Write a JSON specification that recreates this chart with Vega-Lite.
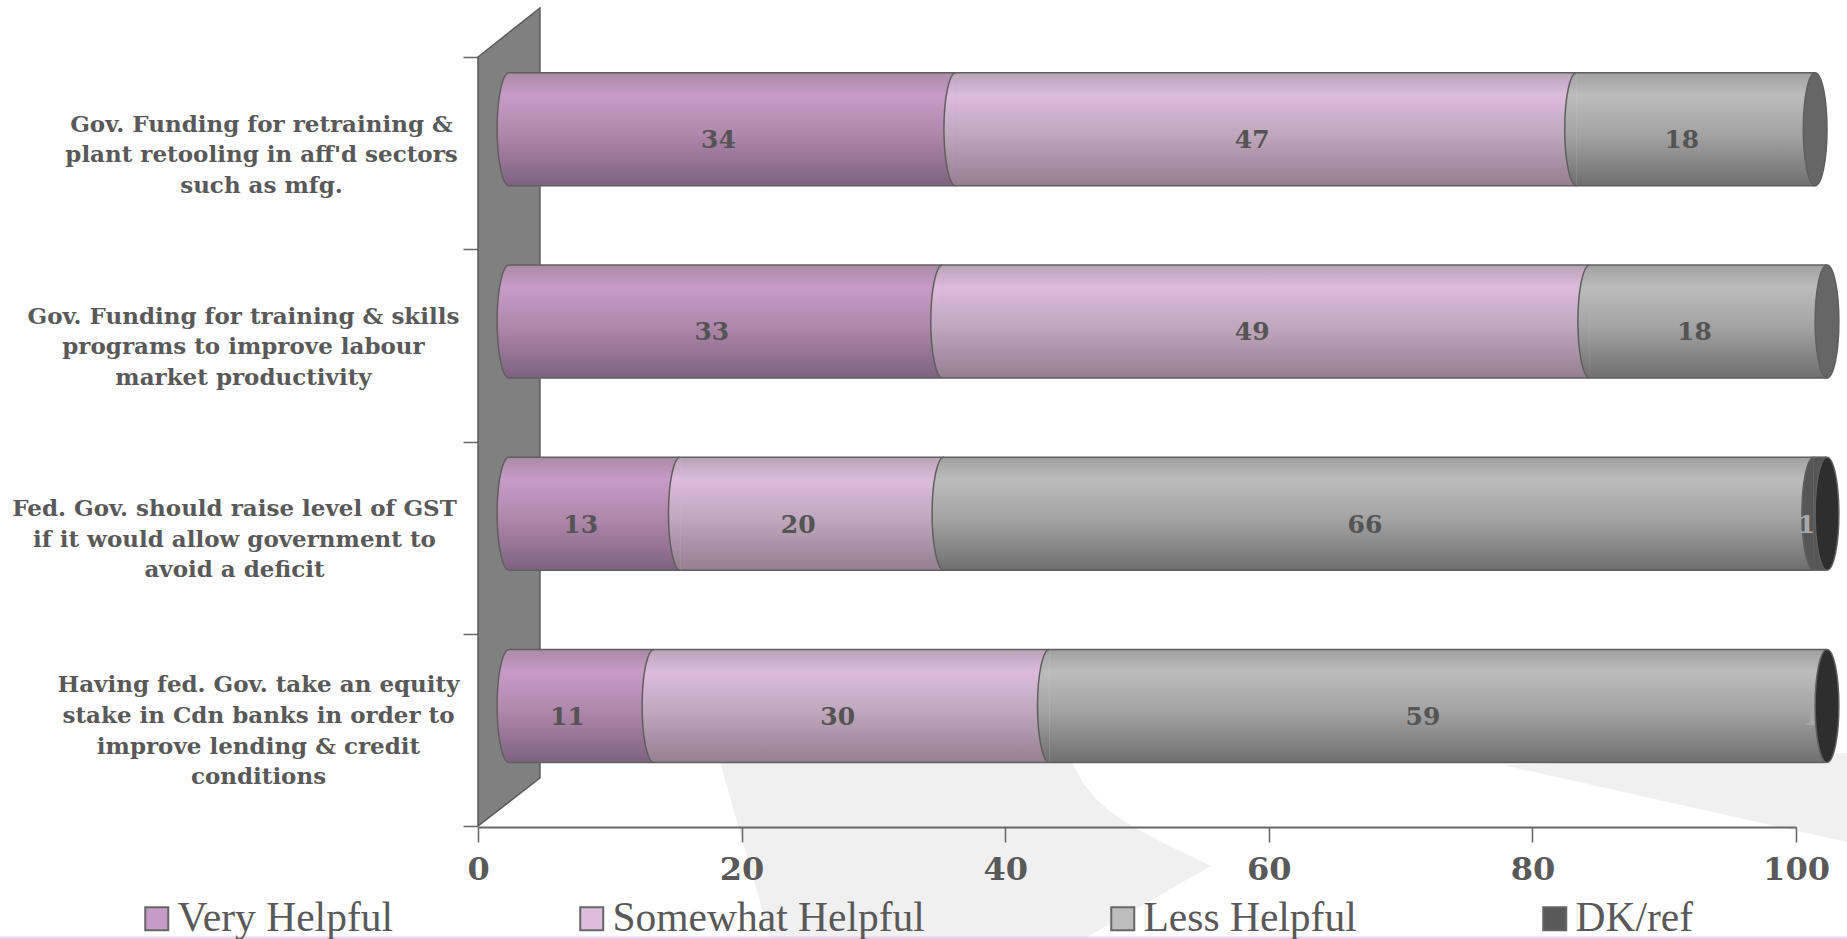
{
"$schema":"https://vega.github.io/schema/vega-lite/v6.json",
"width":1847,"height":939,"padding":0,"autosize":"none","background":"#ffffff",
"datasets":{
"bars":[
{"q":"Gov. Funding for retraining &\nplant retooling in aff'd sectors\nsuch as mfg.","cat":"Very Helpful","share":33.9,"label":34},
{"q":"Gov. Funding for retraining &\nplant retooling in aff'd sectors\nsuch as mfg.","cat":"Somewhat Helpful","share":47.1,"label":47},
{"q":"Gov. Funding for retraining &\nplant retooling in aff'd sectors\nsuch as mfg.","cat":"Less Helpful","share":18.1,"label":18},
{"q":"Gov. Funding for training & skills\nprograms to improve labour\nmarket productivity","cat":"Very Helpful","share":32.9,"label":33},
{"q":"Gov. Funding for training & skills\nprograms to improve labour\nmarket productivity","cat":"Somewhat Helpful","share":49.1,"label":49},
{"q":"Gov. Funding for training & skills\nprograms to improve labour\nmarket productivity","cat":"Less Helpful","share":18,"label":18},
{"q":"Fed. Gov. should raise level of GST\nif it would allow government to\navoid a deficit","cat":"Very Helpful","share":13,"label":13},
{"q":"Fed. Gov. should raise level of GST\nif it would allow government to\navoid a deficit","cat":"Somewhat Helpful","share":20,"label":20},
{"q":"Fed. Gov. should raise level of GST\nif it would allow government to\navoid a deficit","cat":"Less Helpful","share":66,"label":66},
{"q":"Fed. Gov. should raise level of GST\nif it would allow government to\navoid a deficit","cat":"DK/ref","share":1,"label":1},
{"q":"Having fed. Gov. take an equity\nstake in Cdn banks in order to\nimprove lending & credit\nconditions","cat":"Very Helpful","share":11,"label":11},
{"q":"Having fed. Gov. take an equity\nstake in Cdn banks in order to\nimprove lending & credit\nconditions","cat":"Somewhat Helpful","share":30,"label":30},
{"q":"Having fed. Gov. take an equity\nstake in Cdn banks in order to\nimprove lending & credit\nconditions","cat":"Less Helpful","share":58.8,"label":59},
{"q":"Having fed. Gov. take an equity\nstake in Cdn banks in order to\nimprove lending & credit\nconditions","cat":"DK/ref","share":0.2,"label":1}
],
"backdrop":[
{"part":"a","x":18.2,"y":755,"y2":755},
{"part":"a","x":22.2,"y":755,"y2":939},
{"part":"a","x":45.1,"y":763,"y2":939},
{"part":"a","x":45.6,"y":775,"y2":939},
{"part":"a","x":46,"y":785,"y2":939},
{"part":"a","x":47,"y":800,"y2":931},
{"part":"a","x":48,"y":812,"y2":924},
{"part":"a","x":49.85,"y":828,"y2":910},
{"part":"a","x":52,"y":843,"y2":893},
{"part":"a","x":55.6,"y":866,"y2":866},
{"part":"b","x":78.1,"y":765,"y2":766},
{"part":"b","x":103.9,"y":753,"y2":842},
{"part":"c","x":-36.3,"y":936.5,"y2":939},
{"part":"c","x":103.9,"y":936.5,"y2":939}
],
"wall":[{"x":0,"y":57,"y2":826},{"x":4.7,"y":8,"y2":778}]
},
"layer":[
{"layer":[
{"data":{"name":"backdrop"},"transform":[{"filter":"datum.part=='a'"}],
 "mark":{"type":"area","fill":"#f0f0f0","interpolate":"linear"},
 "encoding":{"x":{"field":"x","type":"quantitative","scale":{"domain":[0,100],"range":[478,1796],"clamp":false,"nice":false},
  "axis":{"title":null,"orient":"bottom","offset":-112,"zindex":1,"values":[0,20,40,60,80,100],"grid":false,"domainColor":"#666666","domainWidth":2,"tickColor":"#666666","tickWidth":1.5,"tickSize":15,"labelFont":"DejaVu Serif","labelFontWeight":"bold","labelFontSize":32,"labelColor":"#595959","labelPadding":12,"labelFlush":false,"labelOverlap":false}},
 "y":{"field":"y","type":"quantitative","scale":{"domain":[0,939],"range":[0,939],"nice":false},"axis":null},"y2":{"field":"y2"}}},
{"data":{"name":"backdrop"},"transform":[{"filter":"datum.part=='b'"}],
 "mark":{"type":"area","fill":"#f0f0f0"},
 "encoding":{"x":{"field":"x","type":"quantitative"},
 "y":{"field":"y","type":"quantitative"},"y2":{"field":"y2"}}},
{"data":{"name":"backdrop"},"transform":[{"filter":"datum.part=='c'"}],
 "mark":{"type":"area","fill":"#e8d2e8"},
 "encoding":{"x":{"field":"x","type":"quantitative"},
 "y":{"field":"y","type":"quantitative"},"y2":{"field":"y2"}}},
{"data":{"name":"wall"},
 "mark":{"type":"area","fill":"#808080","stroke":"#5a5a5a","strokeWidth":1.5},
 "encoding":{"x":{"field":"x","type":"quantitative"},
 "y":{"field":"y","type":"quantitative"},"y2":{"field":"y2"}}}
]},
{"data":{"name":"bars"},
 "transform":[
  {"stack":"share","groupby":["q"],"as":["x0","x1"]},
  {"calculate":"(datum.x0+datum.x1)/2","as":"mid"},
  {"joinaggregate":[{"op":"max","field":"x1","as":"end"}],"groupby":["q"]}
 ],
 "encoding":{
  "y":{"field":"q","type":"nominal","scale":{"type":"band","range":[57,826],"paddingInner":0,"paddingOuter":0,"domain":["Gov. Funding for retraining &\nplant retooling in aff'd sectors\nsuch as mfg.","Gov. Funding for training & skills\nprograms to improve labour\nmarket productivity","Fed. Gov. should raise level of GST\nif it would allow government to\navoid a deficit","Having fed. Gov. take an equity\nstake in Cdn banks in order to\nimprove lending & credit\nconditions"]},
   "axis":{"title":null,"orient":"left","offset":-478,"domain":false,"tickBand":"extent","tickSize":15,"tickColor":"#666666","tickWidth":1.5,"labelAlign":"center","labelBaseline":"middle","labelPadding":202,"labelLimit":0,"labelFont":"DejaVu Serif","labelFontWeight":"bold","labelFontSize":23,"labelColor":"#595959","labelLineHeight":30.6,"labelExpr":"isValid(datum.value) ? split(datum.value,'\\n') : ''","labelOverlap":false,
   "encoding":{"labels":{"dx":{"condition":[{"test":"isValid(datum.value) && indexof(datum.value,'retraining')>=0","value":0},{"test":"isValid(datum.value) && indexof(datum.value,'training')>=0","value":-18},{"test":"isValid(datum.value) && indexof(datum.value,'Fed. Gov.')==0","value":-27}],"value":-3},"dy":{"condition":{"test":"isValid(datum.value) && indexof(datum.value,'conditions')>=0","value":-45},"value":-29}}}}}
 },
 "layer":[
  {"mark":{"type":"bar","height":113,"yOffset":-24,"xOffset":31,"x2Offset":31},
   "encoding":{"x":{"field":"x0","type":"quantitative"},"x2":{"field":"x1"},
   "color":{"field":"cat","type":"nominal","scale":{"domain":["Very Helpful","Somewhat Helpful","Less Helpful","DK/ref"],"range":["#c79bc7","#ddbcdc","#bdbdbd","#595959"]},
    "legend":{"title":null,"orient":"none","legendX":136,"legendY":898,"direction":"horizontal","columns":4,"gridAlign":"none","columnPadding":177,"symbolType":"square","symbolSize":529,"symbolStrokeColor":"#666666","symbolStrokeWidth":2,"symbolOpacity":1,"labelFont":"Liberation Serif","labelFontSize":41.5,"labelColor":"#595959","labelOffset":0,"labelLimit":0}}}},
  {"transform":[{"filter":"datum.cat=='Very Helpful'"}],"mark":{"type":"bar","height":113,"yOffset":-24,"xOffset":31,"x2Offset":31,"fill":{"gradient":"linear","x1":0,"y1":0,"x2":0,"y2":1,"stops":[{"offset":0,"color":"#a98aa8"},{"offset":0.2,"color":"#c79bc6"},{"offset":0.55,"color":"#ae87ab"},{"offset":1,"color":"#7e6280"}]}},"encoding":{"x":{"field":"x0","type":"quantitative"},"x2":{"field":"x1"}}},
  {"transform":[{"filter":"datum.cat=='Very Helpful'"}],"mark":{"type":"point","filled":true,"opacity":1,"size":12769,"yOffset":-24,"xOffset":31,"shape":"M0,-1 A0.21,1 0 1,0 0,1","stroke":"#5f5f5f","strokeWidth":1.5,"fill":{"gradient":"linear","x1":0,"y1":0,"x2":0,"y2":1,"stops":[{"offset":0,"color":"#a98aa8"},{"offset":0.2,"color":"#c79bc6"},{"offset":0.55,"color":"#ae87ab"},{"offset":1,"color":"#7e6280"}]}},"encoding":{"x":{"field":"x0","type":"quantitative"}}},
  {"transform":[{"filter":"datum.cat=='Somewhat Helpful'"}],"mark":{"type":"bar","height":113,"yOffset":-24,"xOffset":31,"x2Offset":31,"fill":{"gradient":"linear","x1":0,"y1":0,"x2":0,"y2":1,"stops":[{"offset":0,"color":"#b9a2b8"},{"offset":0.2,"color":"#dcbcdb"},{"offset":0.55,"color":"#c0a6be"},{"offset":1,"color":"#93808f"}]}},"encoding":{"x":{"field":"x0","type":"quantitative"},"x2":{"field":"x1"}}},
  {"transform":[{"filter":"datum.cat=='Somewhat Helpful'"}],"mark":{"type":"point","filled":true,"opacity":1,"size":12769,"yOffset":-24,"xOffset":31,"shape":"M0,-1 A0.21,1 0 1,0 0,1","stroke":"#5f5f5f","strokeWidth":1.5,"fill":{"gradient":"linear","x1":0,"y1":0,"x2":0,"y2":1,"stops":[{"offset":0,"color":"#b9a2b8"},{"offset":0.2,"color":"#dcbcdb"},{"offset":0.55,"color":"#c0a6be"},{"offset":1,"color":"#93808f"}]}},"encoding":{"x":{"field":"x0","type":"quantitative"}}},
  {"transform":[{"filter":"datum.cat=='Less Helpful'"}],"mark":{"type":"bar","height":113,"yOffset":-24,"xOffset":31,"x2Offset":31,"fill":{"gradient":"linear","x1":0,"y1":0,"x2":0,"y2":1,"stops":[{"offset":0,"color":"#a0a0a0"},{"offset":0.2,"color":"#bcbcbc"},{"offset":0.55,"color":"#a3a3a3"},{"offset":1,"color":"#6f6f6f"}]}},"encoding":{"x":{"field":"x0","type":"quantitative"},"x2":{"field":"x1"}}},
  {"transform":[{"filter":"datum.cat=='Less Helpful'"}],"mark":{"type":"point","filled":true,"opacity":1,"size":12769,"yOffset":-24,"xOffset":31,"shape":"M0,-1 A0.21,1 0 1,0 0,1","stroke":"#5f5f5f","strokeWidth":1.5,"fill":{"gradient":"linear","x1":0,"y1":0,"x2":0,"y2":1,"stops":[{"offset":0,"color":"#a0a0a0"},{"offset":0.2,"color":"#bcbcbc"},{"offset":0.55,"color":"#a3a3a3"},{"offset":1,"color":"#6f6f6f"}]}},"encoding":{"x":{"field":"x0","type":"quantitative"}}},
  {"transform":[{"filter":"datum.cat=='DK/ref'"}],"mark":{"type":"bar","height":113,"yOffset":-24,"xOffset":31,"x2Offset":31,"fill":"#565656"},"encoding":{"x":{"field":"x0","type":"quantitative"},"x2":{"field":"x1"}}},
  {"transform":[{"filter":"datum.cat=='DK/ref' && datum.share>0.5"}],"mark":{"type":"point","filled":true,"opacity":1,"size":12769,"yOffset":-24,"xOffset":31,"shape":"M0,-1 A0.21,1 0 1,0 0,1","stroke":"#5f5f5f","strokeWidth":1.5,"fill":"#565656"},"encoding":{"x":{"field":"x0","type":"quantitative"}}},
  {"mark":{"type":"rule","color":"#5f5f5f","strokeWidth":1.5,"yOffset":-80.5,"xOffset":31,"x2Offset":31},"encoding":{"x":{"field":"x0","type":"quantitative"},"x2":{"field":"x1"}}},
  {"mark":{"type":"rule","color":"#5f5f5f","strokeWidth":1.5,"yOffset":32.5,"xOffset":31,"x2Offset":31},"encoding":{"x":{"field":"x0","type":"quantitative"},"x2":{"field":"x1"}}},
  {"mark":{"type":"text","font":"DejaVu Serif","fontWeight":"bold","fontSize":25,"xOffset":17,"yOffset":-13},
   "encoding":{"x":{"field":"mid","type":"quantitative"},"text":{"field":"label","type":"nominal"},
   "color":{"condition":{"test":"datum.cat=='DK/ref'","value":"#a8a8a8"},"value":"#545454"}}},
  {"transform":[{"filter":"datum.x1==datum.end"}],"mark":{"type":"point","filled":true,"opacity":1,"size":12769,"yOffset":-24,"xOffset":31,"shape":"M0,-1 A0.21,1 0 1,0 0,1 A0.21,1 0 1,0 0,-1 Z","stroke":"#5f5f5f","strokeWidth":1.5},
   "encoding":{"x":{"field":"x1","type":"quantitative"},
   "fill":{"condition":{"test":"datum.cat=='DK/ref'","value":"#2e2e2e"},"value":"#666666"}}}
 ]}
],
"resolve":{"scale":{"y":"independent"}},
"config":{"view":{"stroke":null},"axis":{"grid":false}}
}
